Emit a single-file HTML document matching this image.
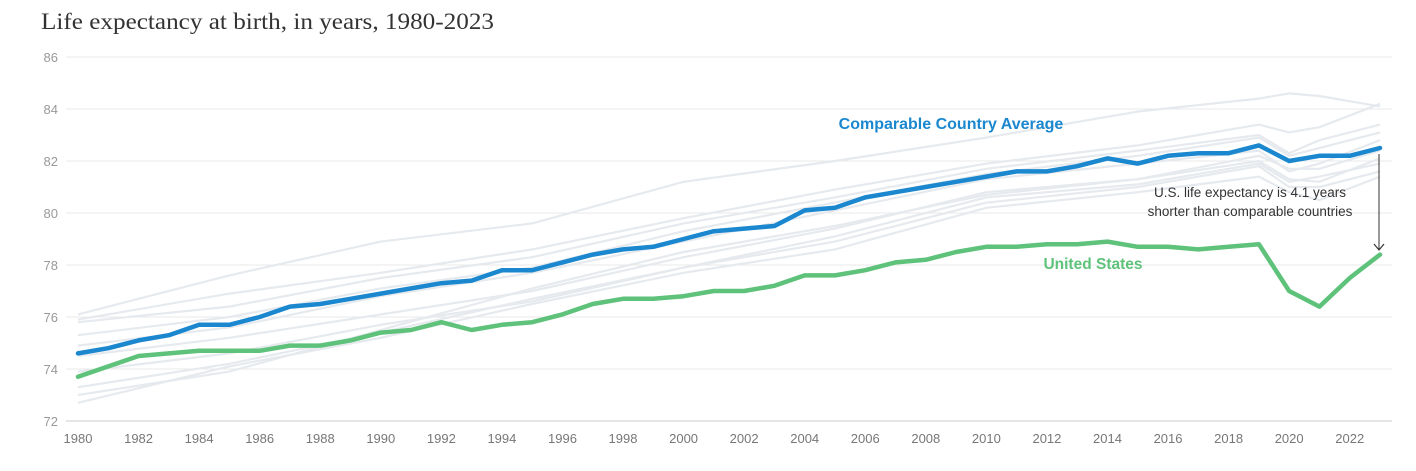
<!DOCTYPE html>
<html><head><meta charset="utf-8">
<style>
body{margin:0;background:#fff;width:1416px;height:466px;overflow:hidden}
svg text{font-family:"Liberation Sans",sans-serif}
</style></head>
<body>
<svg id="chart" width="1416" height="466" xmlns="http://www.w3.org/2000/svg">
<text x="41" y="29" style="font-family:'Liberation Serif',serif" font-size="23" textLength="453" lengthAdjust="spacingAndGlyphs" fill="#333">Life expectancy at birth, in years, 1980-2023</text>
<g id="grid"></g><g id="gray"></g><g id="main"></g>
<text x="951" y="129" text-anchor="middle" font-size="16" font-weight="bold" fill="#1a87cf">Comparable Country Average</text>
<text x="1093" y="269" text-anchor="middle" font-size="15.5" font-weight="bold" fill="#5ec27a">United States</text>
<text x="1250" y="197" text-anchor="middle" font-size="13.5" fill="#333">U.S. life expectancy is 4.1 years</text>
<text x="1250" y="216" text-anchor="middle" font-size="13.5" fill="#333">shorter than comparable countries</text>
<line x1="1379" y1="154" x2="1379" y2="249" stroke="#333" stroke-width="1"/>
<path d="M1374,244 L1379,250 L1384,244" fill="none" stroke="#333" stroke-width="1.2"/>
</svg>
<script>
const years=[];for(let y=1980;y<=2023;y++)years.push(y);
const yTicks=[72,74,76,78,80,82,84,86];
const xTicks=[1980,1982,1984,1986,1988,1990,1992,1994,1996,1998,2000,2002,2004,2006,2008,2010,2012,2014,2016,2018,2020,2022];
const ccaValues=[74.6,74.8,75.1,75.3,75.7,75.7,76.0,76.4,76.5,76.7,76.9,77.1,77.3,77.4,77.8,77.8,78.1,78.4,78.6,78.7,79.0,79.3,79.4,79.5,80.1,80.2,80.6,80.8,81.0,81.2,81.4,81.6,81.6,81.8,82.1,81.9,82.2,82.3,82.3,82.6,82.0,82.2,82.2,82.5];
const usValues=[73.7,74.1,74.5,74.6,74.7,74.7,74.7,74.9,74.9,75.1,75.4,75.5,75.8,75.5,75.7,75.8,76.1,76.5,76.7,76.7,76.8,77.0,77.0,77.2,77.6,77.6,77.8,78.1,78.2,78.5,78.7,78.7,78.8,78.8,78.9,78.7,78.7,78.6,78.7,78.8,77.0,76.4,77.5,78.4];
const grayYears=[1980,1985,1990,1995,2000,2005,2010,2015,2019,2020,2021,2023];
const gray1=[76.1,77.6,78.9,79.6,81.2,82.0,82.9,83.9,84.4,84.6,84.5,84.1];
const gray2=[75.9,76.9,77.7,78.6,79.8,80.9,81.9,82.6,83.4,83.1,83.3,84.2];
const gray3=[75.8,76.4,77.5,78.3,79.6,80.6,81.7,82.4,83.0,82.3,82.8,83.4];
const gray4=[75.3,76.0,77.1,77.9,79.3,80.4,81.5,82.2,82.9,82.2,82.5,83.1];
const gray5=[74.9,75.6,76.8,77.7,78.9,80.1,81.3,81.9,82.4,81.6,81.9,82.8];
const gray6=[74.5,75.2,76.1,77.0,78.3,79.4,80.8,81.3,82.0,81.3,81.2,82.1];
const gray7=[73.9,74.6,75.7,76.6,77.9,79.1,80.6,81.1,81.9,81.2,81.4,81.9];
const gray8=[73.3,74.2,75.4,76.7,77.9,78.9,80.4,81.0,81.8,81.0,81.0,81.6];
const gray9=[72.7,74.1,75.2,76.5,77.7,78.6,80.2,80.8,81.4,80.8,80.5,81.4];
const gray10=[73.0,73.9,75.5,77.1,78.5,79.5,80.7,81.3,82.2,81.7,81.7,82.4];
const grays=[gray1,gray2,gray3,gray4,gray5,gray6,gray7,gray8,gray9,gray10];

const X=y=>78+(y-1980)*(1380-78)/43;
const Y=v=>421-(v-72)*26;
const NS="http://www.w3.org/2000/svg";
function mk(tag,parent,attrs){const e=document.createElementNS(NS,tag);for(const k in attrs)e.setAttribute(k,attrs[k]);document.getElementById(parent).appendChild(e);return e;}
yTicks.forEach(t=>{
  const l=mk('line','grid',{x1:66,x2:1392,y1:Y(t),y2:Y(t),stroke:t===72?'#ddd':'#e8e8e8','stroke-width':t===72?1.5:1});
  
  
  const tx=mk('text','grid',{x:58,y:Y(t)+5,'text-anchor':'end','font-size':13,fill:'#999'});
  tx.textContent=t;
  
  
});
xTicks.forEach(t=>{
  const tx=mk('text','grid',{x:X(t),y:443,'text-anchor':'middle','font-size':13,fill:'#777'});
  tx.textContent=t;
  
  
});
grays.forEach((s,i)=>{
  const p=mk('polyline','gray',{points:s.map((v,j)=>X(grayYears[j])+','+Y(v)).join(' '),fill:'none',stroke:'#e6eaee','stroke-width':2.2});
  
  
});
const us=mk('polyline','main',{points:usValues.map((v,j)=>X(years[j])+','+Y(v)).join(' '),fill:'none',stroke:'#5ec27a','stroke-width':4.5,'stroke-linejoin':'round','stroke-linecap':'round'});


const cca=mk('polyline','main',{points:ccaValues.map((v,j)=>X(years[j])+','+Y(v)).join(' '),fill:'none',stroke:'#1a87cf','stroke-width':4.5,'stroke-linejoin':'round','stroke-linecap':'round'});


</script>
</body></html>
